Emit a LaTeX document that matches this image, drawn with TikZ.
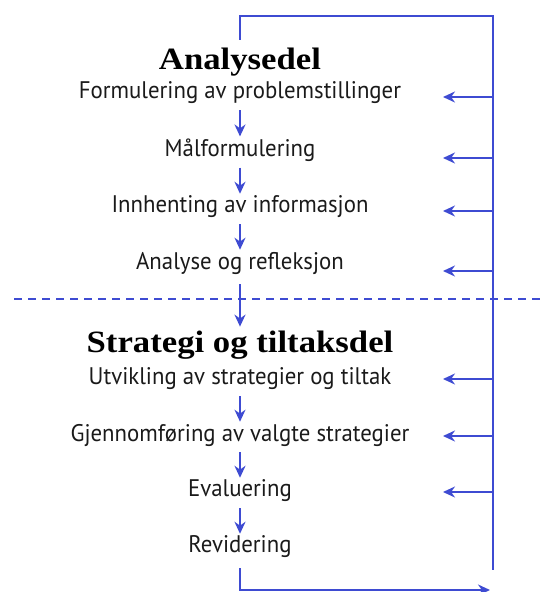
\documentclass[tikz,border=0pt]{standalone}
\usepackage{fontspec}
\usepackage{tikz}
\usetikzlibrary{arrows.meta,positioning,calc}
\newfontfamily\headfont[FakeStretch=1.12]{Liberation Serif}
\newfontfamily\stagefont[FakeStretch=0.95]{PT Sans}
\definecolor{flowblue}{HTML}{3E4BD2}
\definecolor{inktext}{HTML}{1A1A1A}

\tikzset{
  part/.style={font=\headfont\bfseries\fontsize{31}{31}\selectfont, text=black, inner sep=0pt},
  stage/.style={font=\stagefont\fontsize{24}{24}\selectfont, text=inktext, inner sep=0pt},
  flow/.style={flowblue, line width=1.9pt, -{Stealth[length=12pt,width=11pt]}},
  rail/.style={flowblue, line width=1.9pt}
}

\begin{document}
\begin{tikzpicture}[x=1pt,y=-1pt]
  \useasboundingbox (0,0) rectangle (542,592);
  % analysis part
  \node[part]  (analyse) at (240,62)  {Analysedel};
  \node[stage] (formul)  at (240,93)  {Formulering av problemstillinger};
  \node[stage] (maal)    at (240,150) {Målformulering};
  \node[stage] (innhent) at (240,207) {Innhenting av informasjon};
  \node[stage] (reflek)  at (240,263) {Analyse og refleksjon};
  % strategy part
  \node[part]  (strategi) at (240,345) {Strategi og tiltaksdel};
  \node[stage] (utvikl)   at (240,379) {Utvikling av strategier og tiltak};
  \node[stage] (gjennom)  at (240,435) {Gjennomføring av valgte strategier};
  \node[stage] (evaluer)  at (240,491) {Evaluering};
  \node[stage] (revider)  at (240,547) {Revidering};

  \coordinate (top)    at (493,16);
  \coordinate (bottom) at (493,570);
  \coordinate (finish) at (493,590);

  % divider
  \draw[flowblue, line width=1.5pt, dash pattern=on 8pt off 6pt] (14,299) -- (542,299);

  % main flow
  \draw[flow, shorten <=6pt, shorten >=2pt] (formul) -- (maal);
  \draw[flow, shorten <=6pt, shorten >=2pt] (maal) -- (innhent);
  \draw[flow, shorten <=6pt, shorten >=2pt] (innhent) -- (reflek);
  \draw[flow, shorten <=10pt, shorten >=4pt] (reflek) -- (strategi);
  \draw[flow, shorten <=6pt, shorten >=2pt] (utvikl) -- (gjennom);
  \draw[flow, shorten <=6pt, shorten >=2pt] (gjennom) -- (evaluer);
  \draw[flow, shorten <=6pt, shorten >=2pt] (evaluer) -- (revider);

  % feedback rail
  \draw[rail] ($(analyse.north)+(0,-8)$) -- (analyse.north |- top) -- (top) -- (bottom);
  \draw[flow] ($(revider.south)+(0,10)$) -- (revider.south |- finish) -- ($(finish)+(-3,0)$);
  \foreach \s/\dy in {formul/4, maal/8, innhent/4, reflek/8, utvikl/0, gjennom/1, evaluer/1}
    \draw[flow] ($(\s -| top)+(0,\dy)$) -- ++(-50,0);
\end{tikzpicture}
\end{document}
